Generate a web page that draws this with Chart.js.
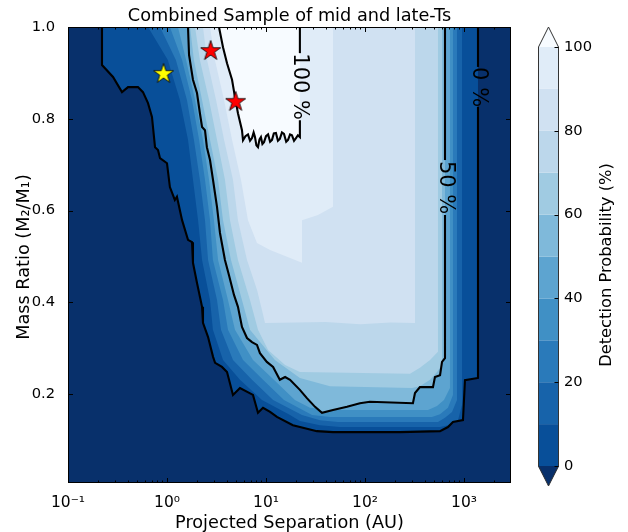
<!DOCTYPE html>
<html>
<head>
<meta charset="utf-8">
<script src="https://cdn.jsdelivr.net/npm/chart.js@4.4.0/dist/chart.umd.min.js"></script>
<style>
  html, body { margin: 0; padding: 0; background: #fff; }
  canvas { display: block; }
</style>
</head>
<body>
<canvas id="detChart" width="628" height="532"></canvas>
<script>
// Axis ranges
const xRange = [0.1, 2985];
const yRange = [0.006, 1.0];

// Tick values and labels
const xTickValues = [0.1, 1, 10, 100, 1000];
const xTickLabels = ['10⁻¹', '10⁰', '10¹', '10²', '10³'];
const xMinorTicks = [0.2, 0.3, 0.4, 0.5, 0.6, 0.7, 0.8, 0.9, 2, 3, 4, 5, 6, 7, 8, 9,
  20, 30, 40, 50, 60, 70, 80, 90, 200, 300, 400, 500, 600, 700, 800, 900, 2000];
const yTickValues = [0.2, 0.4, 0.6, 0.8, 1.0];
const yTickLabels = ['0.2', '0.4', '0.6', '0.8', '1.0'];

// Colour levels (detection probability, %)
const levels = [0, 10, 20, 30, 40, 50, 60, 70, 80, 90, 100];
const levelColors = ['#084f99', '#1763aa', '#2a7aba', '#4090c5', '#5da4d0',
  '#7fb9da', '#a0cbe2', '#bcd7eb', '#d0e1f2', '#e0ecf8'];
const underColor = '#08306b';
const overColor = '#f7fbff';
const cbarTicks = [0, 20, 40, 60, 80, 100];

// Contour lines [separation AU, mass ratio]
const line0 = [[0.2205, 1], [0.2205, 0.917], [0.285, 0.891], [0.351, 0.858], [0.404, 0.869], [0.509, 0.869],
  [0.572, 0.858], [0.643, 0.834], [0.705, 0.804], [0.757, 0.738], [0.811, 0.732], [0.850, 0.714], [1.0, 0.703],
  [1.07, 0.651], [1.20, 0.623], [1.26, 0.630], [1.42, 0.579], [1.63, 0.536], [1.79, 0.531], [1.83, 0.486],
  [2.01, 0.442], [2.26, 0.390], [2.31, 0.355], [2.60, 0.324], [2.92, 0.281], [3.06, 0.268], [3.59, 0.259],
  [4.04, 0.248], [4.64, 0.198], [5.46, 0.213], [7.39, 0.198], [8.30, 0.159], [9.33, 0.170], [11.0, 0.161],
  [12.9, 0.150], [18.7, 0.132], [22.0, 0.128], [32.7, 0.119], [47.5, 0.117], [105, 0.117], [226, 0.117],
  [573, 0.119], [689, 0.128], [774, 0.139], [977, 0.143], [1023, 0.230], [1385, 0.235], [1385, 0.826],
  [1385, 0.913], [1385, 1]];
const line50 = [[1.63, 1], [1.67, 0.939], [1.83, 0.885], [2.01, 0.856], [2.15, 0.812], [2.26, 0.782], [2.42, 0.775],
  [2.53, 0.738], [2.72, 0.710], [2.92, 0.666], [3.20, 0.608], [3.43, 0.551], [3.85, 0.492], [4.23, 0.459],
  [4.75, 0.416], [5.21, 0.390], [5.72, 0.346], [6.43, 0.322], [7.22, 0.313], [8.11, 0.307], [8.69, 0.289],
  [10.2, 0.270], [11.8, 0.259], [13.8, 0.231], [15.6, 0.237], [17.5, 0.231], [22.0, 0.209], [25.9, 0.191],
  [31.3, 0.172], [36.8, 0.159], [47.5, 0.165], [65.8, 0.172], [88.9, 0.180], [112, 0.183], [305, 0.180],
  [320, 0.202], [359, 0.215], [486, 0.215], [509, 0.237], [573, 0.241], [600, 0.270], [643, 0.278],
  [643, 0.590], [643, 0.710], [643, 1]];
const line100 = [[3.35, 1], [3.68, 0.956], [4.04, 0.921], [4.54, 0.885], [4.86, 0.847], [5.21, 0.812], [5.72, 0.775],
  [5.86, 0.753], [6.20, 0.762], [6.58, 0.766], [6.90, 0.752], [7.22, 0.758], [7.50, 0.770], [7.74, 0.760],
  [8.00, 0.742], [8.30, 0.738], [8.60, 0.755], [8.89, 0.760], [9.20, 0.745], [9.55, 0.749], [10.0, 0.762],
  [10.5, 0.766], [11.0, 0.750], [11.5, 0.754], [12.0, 0.768], [12.6, 0.769], [13.2, 0.752], [13.8, 0.756],
  [14.5, 0.770], [15.2, 0.767], [16.0, 0.750], [16.7, 0.754], [17.5, 0.766], [18.3, 0.764], [19.2, 0.752],
  [20.1, 0.758], [21.0, 0.764], [22.0, 0.760], [22.0, 0.797], [22.0, 0.943], [22.0, 1]];

// Filled region boundaries for the intermediate levels
const bound10 = [[0.643, 1], [1.02, 0.928], [1.35, 0.841], [1.63, 0.754], [1.83, 0.667], [2.06, 0.579], [2.26, 0.492],
  [2.72, 0.405], [2.91, 0.340], [3.68, 0.274], [5.46, 0.231], [9.11, 0.187], [17.5, 0.154], [22.0, 0.141],
  [35.1, 0.132], [55.9, 0.128], [572, 0.128], [689, 0.132], [870, 0.143], [955, 0.176], [955, 1]];
const bound20 = [[0.850, 1], [1.23, 0.928], [1.59, 0.841], [1.87, 0.754], [2.15, 0.667], [2.42, 0.579], [2.60, 0.492],
  [3.20, 0.405], [3.51, 0.340], [4.64, 0.274], [7.22, 0.231], [11.8, 0.187], [23.1, 0.154], [35.1, 0.143],
  [53.4, 0.139], [546, 0.139], [643, 0.148], [757, 0.161], [850, 0.187], [850, 1]];
const bound30 = [[1.07, 1], [1.42, 0.928], [1.79, 0.841], [2.11, 0.754], [2.42, 0.667], [2.72, 0.579], [2.91, 0.492],
  [3.68, 0.405], [4.13, 0.340], [5.86, 0.274], [9.33, 0.231], [15.2, 0.187], [29.2, 0.154], [44.3, 0.150],
  [475, 0.150], [572, 0.156], [689, 0.170], [774, 0.198], [774, 1]];
const bound40 = [[1.29, 1], [1.56, 0.928], [1.92, 0.841], [2.31, 0.754], [2.66, 0.667], [2.98, 0.579], [3.28, 0.492],
  [4.13, 0.405], [4.86, 0.340], [7.39, 0.274], [12.0, 0.231], [19.6, 0.187], [27.8, 0.170], [44.3, 0.165],
  [433, 0.165], [534, 0.174], [628, 0.187], [722, 0.213], [722, 1]];
const bound60 = [[1.71, 1], [1.87, 0.928], [2.26, 0.841], [2.72, 0.754], [3.28, 0.667], [3.68, 0.579], [4.43, 0.492],
  [5.72, 0.405], [6.89, 0.340], [12.3, 0.274], [22.0, 0.235], [44.3, 0.217], [298, 0.213], [359, 0.217],
  [454, 0.231], [534, 0.248], [600, 0.263], [600, 1]];
const bound70 = [[1.92, 1], [2.15, 0.928], [2.66, 0.841], [3.20, 0.754], [3.85, 0.667], [4.33, 0.579], [5.21, 0.492],
  [6.89, 0.405], [8.30, 0.340], [10.5, 0.296], [15.6, 0.263], [22.0, 0.248], [285, 0.244], [359, 0.257],
  [454, 0.274], [546, 0.292], [546, 1]];
const bound80 = [[2.31, 1], [2.54, 0.928], [3.13, 0.841], [3.77, 0.754], [4.64, 0.667], [5.21, 0.579], [6.43, 0.492],
  [8.11, 0.427], [9.11, 0.383], [9.77, 0.355], [40, 0.357], [90, 0.352], [180, 0.356], [320, 0.355], [320, 1]];
const bound90 = [[2.72, 1], [3.05, 0.928], [3.77, 0.841], [4.54, 0.754], [5.59, 0.667], [6.58, 0.579], [8.11, 0.529],
  [11.0, 0.514], [15.6, 0.501], [23.1, 0.486], [23.1, 0.579], [33.5, 0.590], [47.5, 0.608], [47.5, 1]];

// Contour labels
const contourLabelText = ['0 %', '50 %', '100 %'];
const contourLabelX = [1385, 643, 22.0];
const contourLabelY = [0.869, 0.650, 0.870];
const labelGaps = [[0.826, 0.913], [0.590, 0.710], [0.797, 0.943]];

// Individual objects
const yellowStars = [[0.922, 0.900]];
const redStars = [[2.76, 0.950], [4.94, 0.839]];

const toXY = pts => pts.map(p => ({ x: p[0], y: p[1] }));

function makeStar(fill) {
  const r = 10.5, size = 26;
  const c = document.createElement('canvas');
  c.width = size; c.height = size;
  const g = c.getContext('2d');
  g.beginPath();
  for (let k = 0; k < 10; k++) {
    const rad = k % 2 === 0 ? r : r * 0.382;
    const ang = -Math.PI / 2 + k * Math.PI / 5;
    const px = size / 2 + rad * Math.cos(ang);
    const py = size / 2 + 1 + rad * Math.sin(ang);
    if (k === 0) g.moveTo(px, py); else g.lineTo(px, py);
  }
  g.closePath();
  g.fillStyle = fill;
  g.fill();
  g.lineWidth = 0.8;
  g.strokeStyle = '#000';
  g.stroke();
  return c;
}

// Build datasets
const regions = [line0, bound10, bound20, bound30, bound40, line50, bound60, bound70, bound80, bound90, line100];
const datasets = regions.map((pts, i) => ({
  data: toXY(pts),
  showLine: true,
  fill: 'shape',
  backgroundColor: i < levelColors.length ? levelColors[i] : overColor,
  borderColor: 'rgba(0,0,0,0)',
  borderWidth: 0,
  pointRadius: 0,
  order: 100 - i
}));

[line0, line50, line100].forEach((pts, i) => {
  const gap = labelGaps[i];
  datasets.push({
    data: toXY(pts),
    showLine: true,
    fill: false,
    borderColor: '#000',
    borderWidth: 2.1,
    pointRadius: 0,
    order: 5,
    segment: {
      borderColor: ctx => {
        const a = pts[ctx.p0DataIndex], b = pts[ctx.p1DataIndex];
        const inGap = a[0] === b[0] && Math.min(a[1], b[1]) >= gap[0] - 1e-6 && Math.max(a[1], b[1]) <= gap[1] + 1e-6;
        return inGap ? 'rgba(0,0,0,0)' : undefined;
      }
    }
  });
});

datasets.push({ data: toXY(yellowStars), pointStyle: makeStar('#ffff00'), pointRadius: 10, showLine: false, order: 0 });
datasets.push({ data: toXY(redStars), pointStyle: makeStar('#ff0000'), pointRadius: 10, showLine: false, order: 0 });

const FONT = '"DejaVu Sans", "Liberation Sans", sans-serif';

const decorations = {
  id: 'decorations',
  beforeDatasetsDraw(chart) {
    const { ctx, chartArea: a } = chart;
    ctx.save();
    ctx.fillStyle = underColor;
    ctx.fillRect(a.left, a.top, a.right - a.left, a.bottom - a.top);
    ctx.restore();
  },
  afterDatasetsDraw(chart) {
    const { ctx, chartArea: a, scales } = chart;
    const xs = scales.x, ys = scales.y;
    ctx.save();

    // contour labels
    ctx.fillStyle = '#000';
    ctx.font = '21px ' + FONT;
    ctx.textAlign = 'center';
    ctx.textBaseline = 'middle';
    contourLabelText.forEach((t, i) => {
      ctx.save();
      ctx.translate(xs.getPixelForValue(contourLabelX[i]), ys.getPixelForValue(contourLabelY[i]));
      ctx.rotate(Math.PI / 2);
      ctx.fillText(t, 0, 0);
      ctx.restore();
    });

    // frame and inward ticks on all sides
    ctx.strokeStyle = '#000';
    ctx.lineWidth = 1;
    const seg = (x1, y1, x2, y2) => { ctx.beginPath(); ctx.moveTo(x1, y1); ctx.lineTo(x2, y2); ctx.stroke(); };
    xTickValues.concat(xMinorTicks).forEach(v => {
      const px = Math.round(xs.getPixelForValue(v)) + 0.5;
      if (px < a.left || px > a.right) return;
      const len = xTickValues.includes(v) ? 5 : 2.5;
      seg(px, a.bottom, px, a.bottom - len);
      seg(px, a.top, px, a.top + len);
    });
    yTickValues.forEach(v => {
      const py = Math.round(ys.getPixelForValue(v)) + 0.5;
      seg(a.left, py, a.left + 5, py);
      seg(a.right, py, a.right - 5, py);
    });
    ctx.strokeRect(a.left + 0.5, a.top + 0.5, a.right - a.left - 1, a.bottom - a.top - 1);
    ctx.restore();
  },
  afterDraw(chart) {
    const { ctx, chartArea: a } = chart;
    ctx.save();
    ctx.fillStyle = '#000';

    // title and axis titles
    ctx.font = '17.7px ' + FONT;
    ctx.textAlign = 'center';
    ctx.textBaseline = 'alphabetic';
    ctx.fillText('Combined Sample of mid and late-Ts', (a.left + a.right) / 2, 21);
    ctx.fillText('Projected Separation (AU)', (a.left + a.right) / 2, 527.5);
    ctx.save();
    ctx.translate(29, (a.top + a.bottom) / 2 + 2);
    ctx.rotate(-Math.PI / 2);
    ctx.fillText('Mass Ratio (M₂/M₁)', 0, 0);
    ctx.restore();

    // colorbar
    const cb = { left: 538, right: 559, top: 47, bottom: 466, tip: 20 };
    const mid = (cb.left + cb.right) / 2;
    const span = levels[levels.length - 1] - levels[0];
    const yOf = v => cb.bottom - (v - levels[0]) / span * (cb.bottom - cb.top);
    for (let i = 0; i < levelColors.length; i++) {
      const y1 = yOf(levels[i + 1]), y0 = yOf(levels[i]);
      ctx.fillStyle = levelColors[i];
      ctx.fillRect(cb.left, y1, cb.right - cb.left, y0 - y1);
    }
    ctx.fillStyle = overColor;
    ctx.beginPath();
    ctx.moveTo(cb.left, cb.top); ctx.lineTo(mid, cb.top - cb.tip); ctx.lineTo(cb.right, cb.top); ctx.closePath();
    ctx.fill();
    ctx.fillStyle = underColor;
    ctx.beginPath();
    ctx.moveTo(cb.left, cb.bottom); ctx.lineTo(mid, cb.bottom + cb.tip); ctx.lineTo(cb.right, cb.bottom); ctx.closePath();
    ctx.fill();
    ctx.strokeStyle = '#333';
    ctx.lineWidth = 1;
    ctx.beginPath();
    ctx.moveTo(cb.left + 0.5, cb.top);
    ctx.lineTo(mid, cb.top - cb.tip);
    ctx.lineTo(cb.right - 0.5, cb.top);
    ctx.lineTo(cb.right - 0.5, cb.bottom);
    ctx.lineTo(mid, cb.bottom + cb.tip);
    ctx.lineTo(cb.left + 0.5, cb.bottom);
    ctx.closePath();
    ctx.stroke();

    ctx.strokeStyle = '#000';
    ctx.fillStyle = '#000';
    ctx.font = '14.7px ' + FONT;
    ctx.textAlign = 'left';
    ctx.textBaseline = 'middle';
    cbarTicks.forEach(v => {
      const y = Math.round(yOf(v)) + 0.5;
      ctx.beginPath(); ctx.moveTo(cb.right - 0.5, y); ctx.lineTo(cb.right - 4.5, y); ctx.stroke();
      ctx.fillText(String(v), cb.right + 5, yOf(v));
    });

    ctx.font = '16.3px ' + FONT;
    ctx.textAlign = 'center';
    ctx.textBaseline = 'alphabetic';
    ctx.save();
    ctx.translate(611, 265);
    ctx.rotate(-Math.PI / 2);
    ctx.fillText('Detection Probability (%)', 0, 0);
    ctx.restore();
    ctx.restore();
  }
};

new Chart(document.getElementById('detChart'), {
  type: 'scatter',
  data: { datasets },
  options: {
    responsive: false,
    animation: false,
    devicePixelRatio: 1,
    events: [],
    layout: { padding: { top: 27, right: 117, bottom: 0, left: 0 } },
    plugins: { legend: { display: false }, tooltip: { enabled: false }, title: { display: false } },
    scales: {
      x: {
        type: 'logarithmic',
        min: xRange[0],
        max: xRange[1],
        grid: { display: false },
        border: { display: false },
        afterBuildTicks: s => { s.ticks = xTickValues.concat(xMinorTicks).sort((p, q) => p - q).map(v => ({ value: v })); },
        afterFit: s => { s.height = 49; },
        ticks: {
          autoSkip: false,
          maxRotation: 0,
          padding: 3,
          color: '#000',
          font: { family: FONT, size: 15.5 },
          callback: v => { const i = xTickValues.indexOf(v); return i >= 0 ? xTickLabels[i] : ''; }
        }
      },
      y: {
        type: 'linear',
        min: yRange[0],
        max: yRange[1],
        grid: { display: false },
        border: { display: false },
        afterBuildTicks: s => { s.ticks = yTickValues.map(v => ({ value: v })); },
        afterFit: s => { s.width = 68; },
        ticks: {
          padding: 5,
          color: '#000',
          font: { family: FONT, size: 14.7 },
          callback: v => { const i = yTickValues.indexOf(v); return i >= 0 ? yTickLabels[i] : ''; }
        }
      }
    }
  },
  plugins: [decorations]
});
</script>
</body>
</html>
